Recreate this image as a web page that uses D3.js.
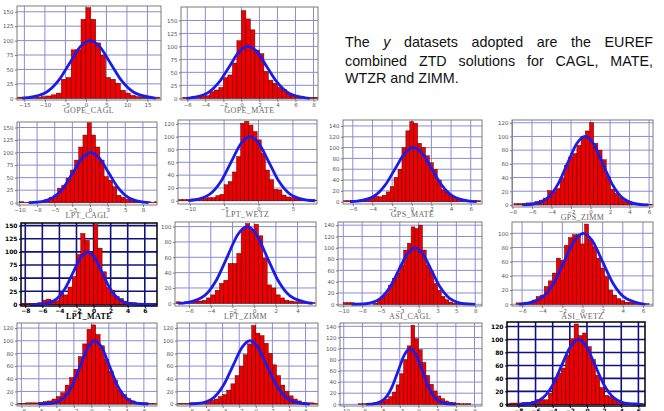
<!DOCTYPE html>
<html>
<head>
<meta charset="utf-8">
<script src="https://cdn.jsdelivr.net/npm/d3@7"></script>
<style>
body { margin: 0; background: #fff; }
svg { display: block; }
</style>
</head>
<body>
<div id="chart"></div>
<script>
//Data

const titles = ["GOPE_CAGL", "GOPE_MATE", "LPT_CAGL", "LPT_WETZ", "GPS_MATE", "GPS_ZIMM",
	"LPT_MATE", "LPT_ZIMM", "ASI_CAGL", "ASI_WETZ", null, null, null, null];

const xTicks = [
	[-15, -10, -5, 0, 5, 10, 15],
	[-6, -4, -2, 0, 2, 4, 6, 8],
	[-10, -7.5, -5, -2.5, 0, 2.5, 5, 7.5],
	[-10, -5, 0, 5],
	[-6, -4, -2, 0, 2, 4, 6],
	[-8, -6, -4, -2, 0, 2, 4, 6],
	[-8, -6, -4, -2, 0, 2, 4, 6],
	[-6, -4, -2, 0, 2, 4],
	[-10, -7.5, -5, -2.5, 0, 2.5, 5, 7.5],
	[-6, -4, -2, 0, 2, 4, 6],
	[-8, -6, -4, -2, 0, 2, 4, 6],
	[-8, -6, -4, -2, 0, 2, 4, 6],
	[-10, -7.5, -5, -2.5, 0, 2.5, 5, 7.5],
	[-8, -6, -4, -2, 0, 2, 4, 6]
];

const yTicks = [
	[0, 25, 50, 75, 100, 125, 150],
	[0, 25, 50, 75, 100, 125, 150],
	[0, 25, 50, 75, 100, 125, 150],
	[0, 20, 40, 60, 80, 100, 120],
	[0, 20, 40, 60, 80, 100, 120, 140],
	[0, 20, 40, 60, 80, 100, 120],
	[0, 25, 50, 75, 100, 125, 150],
	[0, 20, 40, 60, 80, 100],
	[0, 20, 40, 60, 80, 100, 120, 140],
	[0, 20, 40, 60, 80, 100],
	[0, 20, 40, 60, 80, 100, 120],
	[0, 20, 40, 60, 80, 100, 120],
	[0, 20, 40, 60, 80, 100, 120, 140],
	[0, 20, 40, 60, 80, 100, 120]
];

const binStarts = [-16.8, -6.5, -10, -11.6, -7, -7.85, -8.5, -7.2, -10.5, -6.6, -8.5, -9.5, -10.5, -9];
const binWidths = [1.2, 0.5, 0.6, 0.6, 0.4, 0.43, 0.5, 0.4, 0.5, 0.4, 0.5, 0.5, 0.5, 0.5];

const counts = [
	[2,2,1,1,2,3,4,6,9,33,36,84,84,137,157,137,96,75,36,33,26,14,9,5,3,2,2,2,2],
	[2,2,3,3,4,5,13,16,21,40,45,68,111,169,153,132,93,86,52,35,29,21,17,10,5,4,2,2,2,2],
	[2,1,1,2,2,3,7,11,15,29,35,49,65,85,111,135,160,135,111,85,52,45,32,15,11,7,5,3,2,2,2,1,2],
	[2,2,2,3,3,4,4,5,5,8,10,25,30,45,69,121,124,118,108,95,74,48,33,18,17,9,6,5,4,3,2,2,2,1],
	[2,2,2,2,3,3,4,8,10,9,12,18,28,45,60,100,131,148,145,108,100,85,72,60,40,22,18,12,8,5,4,3,2,2,2],
	[2,2,2,3,3,5,7,10,21,19,24,39,58,70,75,87,100,108,120,90,80,66,41,23,17,11,6,3,2,2,1,1,1],
	[2,2,2,2,3,8,10,8,7,22,18,33,53,95,135,122,100,152,107,62,32,27,15,11,6,4,3,2,2,2,2,2],
	[2,1,2,2,3,3,4,7,11,17,26,30,52,52,65,97,104,96,103,88,59,24,20,11,7,4,3,2,2,1,1,1],
	[0,3,3,3,1,0,0,0,0,2,8,14,19,34,46,55,69,96,108,137,134,140,96,69,58,37,25,14,8,4,2,1,1,1,0,0,0,0],
	[2,2,3,3,6,11,13,25,33,44,65,62,83,94,98,98,85,113,91,81,65,51,39,20,13,8,5,3,3,2,2,1,1],
	[1,1,2,2,2,3,4,5,8,12,18,30,42,55,75,95,118,125,110,92,70,52,38,22,15,9,5,3,2,2,1,1],
	[1,1,1,2,2,3,3,4,6,8,12,15,22,32,45,60,78,95,124,112,108,96,80,62,45,30,20,13,8,5,3,2,2,1],
	[0,0,0,0,0,1,1,2,2,3,4,6,9,14,22,35,55,80,105,142,118,98,75,52,36,24,15,10,6,4,3,2,1,1,1,0,0,0],
	[2,2,2,3,3,4,7,7,7,17,38,48,56,76,101,124,106,110,89,69,45,26,14,12,8,3,2,2,2,2,1]
];

//fitted normal curves: heights shared, x read per panel
const curveLevels = [0, 1, 10, 30, 60, 90, 100, 90, 60, 30, 10, 1, 0];
const curveX = [
	[-15.5, -14.15, -9.75, -6.75, -4.05, -1.3, 1, 3.3, 6.05, 8.75, 11.75, 16.15, 17],
	[-6.1, -5.62, -3.78, -2.52, -1.38, -0.23, 0.74, 1.71, 2.86, 4.0, 5.26, 7.1, 7.6],
	[-8.7, -7.48, -5.28, -3.78, -2.43, -1.05, 0.1, 1.25, 2.63, 3.98, 5.48, 7.68, 8.3],
	[-10.2, -9.51, -7.11, -5.47, -4.0, -2.5, -1.24, 0.02, 1.52, 2.99, 4.63, 7.03, 8.2],
	[-6.3, -5.5, -3.85, -2.73, -1.72, -0.69, 0.17, 1.03, 2.06, 3.07, 4.19, 5.84, 6.6],
	[-7, -6.01, -4.43, -3.35, -2.38, -1.39, -0.56, 0.27, 1.26, 2.23, 3.31, 4.89, 5.9],
	[-7.4, -5.85, -4.36, -3.34, -2.42, -1.48, -0.7, 0.08, 1.02, 1.94, 2.96, 4.45, 7.2],
	[-7.0, -6.19, -4.58, -3.49, -2.5, -1.49, -0.65, 0.19, 1.2, 2.19, 3.28, 4.89, 5.4],
	[-8.9, -7.02, -5.12, -3.83, -2.66, -1.47, -0.48, 0.51, 1.7, 2.87, 4.16, 6.06, 7.5],
	[-6.3, -5.65, -3.98, -2.85, -1.83, -0.79, 0.08, 0.95, 1.99, 3.01, 4.14, 5.81, 6.2],
	[-6, -4.6, -3.15, -2.16, -1.27, -0.36, 0.4, 1.16, 2.07, 2.96, 3.95, 5.4, 6.5],
	[-8, -6.91, -5.11, -3.88, -2.77, -1.64, -0.7, 0.24, 1.37, 2.48, 3.71, 5.51, 6.5],
	[-7, -5.95, -4.54, -3.58, -2.72, -1.84, -1.1, -0.36, 0.52, 1.38, 2.34, 3.75, 5],
	[-8, -6.85, -5.15, -3.99, -2.95, -1.89, -1.0, -0.11, 0.95, 1.99, 3.15, 4.85, 6.4]
];

const paraLines = [
	["The", "y", "datasets", "adopted", "are", "the", "EUREF"],
	["combined", "ZTD", "solutions", "for", "CAGL,", "MATE,"],
	["WTZR", "and", "ZIMM."]
];

//Layout: box = [left, right, top, bottom], domains per panel
const panels = [
	{box: [17, 161, 6, 100], xDom: [-16.8, 18.3], yDom: [-3, 160]},
	{box: [181, 318, 7, 100], xDom: [-6.7, 8.5], yDom: [-3.3, 176]},
	{box: [17, 157, 122, 205], xDom: [-10.35, 9.5], yDom: [-4.6, 161]},
	{box: [178, 317, 120, 204], xDom: [-11.7, 8.5], yDom: [-5, 126]},
	{box: [343, 482, 120, 204], xDom: [-7, 7.15], yDom: [-4.3, 151]},
	{box: [512, 653, 120, 207], xDom: [-8.05, 6.4], yDom: [-3, 124]},
	{box: [21, 157, 223, 306], xDom: [-8.5, 7.43], yDom: [-3.2, 155], dark: true},
	{box: [175, 316, 222, 306], xDom: [-7.3, 5.7], yDom: [-3.5, 106]},
	{box: [338, 482, 222, 306], xDom: [-10.7, 8.4], yDom: [-3, 145.6]},
	{box: [512, 653, 222, 306], xDom: [-7, 7], yDom: [-2.4, 115.9]},
	{box: [17, 157, 323, 406], xDom: [-8.5, 7.5], yDom: [-3, 128]},
	{box: [177, 318, 323, 406], xDom: [-9.5, 7.5], yDom: [-3, 128]},
	{box: [340, 482, 323, 406], xDom: [-10.5, 8.5], yDom: [-3, 146]},
	{box: [507, 645, 322, 406], xDom: [-9.33, 6.77], yDom: [-2.6, 127], dark: true}
];

const svg = d3.select('#chart')
	.append('svg')
	.attr('width', 664)
	.attr('height', 411);

panels.forEach(function(p, i) {
	let b = p.box;
	let x = d3.scaleLinear().domain(p.xDom).range([b[0], b[1]]);
	let y = d3.scaleLinear().domain(p.yDom).range([b[3], b[2]]);
	let gridCol = p.dark ? '#12127e' : '#8c8cd2';
	let gridW = p.dark ? 1.6 : 1;

	let g = svg.append('g');
	g.append('rect')
		.attr('x', b[0]).attr('y', b[2])
		.attr('width', b[1] - b[0]).attr('height', b[3] - b[2])
		.attr('fill', '#fff');

	svg.append('clipPath').attr('id', 'clip' + i)
		.append('rect')
		.attr('x', b[0]).attr('y', b[2])
		.attr('width', b[1] - b[0]).attr('height', b[3] - b[2]);

	let inner = g.append('g').attr('clip-path', 'url(#clip' + i + ')');

	//grid
	inner.selectAll('line.v').data(xTicks[i]).enter().append('line')
		.attr('x1', d => x(d)).attr('x2', d => x(d))
		.attr('y1', b[2]).attr('y2', b[3])
		.attr('stroke', gridCol).attr('stroke-width', gridW);
	inner.selectAll('line.h').data(yTicks[i]).enter().append('line')
		.attr('x1', b[0]).attr('x2', b[1])
		.attr('y1', d => y(d)).attr('y2', d => y(d))
		.attr('stroke', gridCol).attr('stroke-width', gridW);

	//bars
	let bins = counts[i].map(function(c, k) {
		let x0 = binStarts[i] + k * binWidths[i];
		return {x0: x0, x1: x0 + binWidths[i], c: c};
	}).filter(d => d.c > 0);
	inner.selectAll('rect.bar').data(bins).enter().append('rect')
		.attr('x', d => x(d.x0))
		.attr('width', d => x(d.x1) - x(d.x0))
		.attr('y', d => y(d.c))
		.attr('height', d => y(0) - y(d.c))
		.attr('fill', '#ee0000')
		.attr('stroke', '#4a0000')
		.attr('stroke-width', 0.45);

	//fitted curve
	let line = d3.line()
		.x(d => x(d[0]))
		.y(d => y(d[1]))
		.curve(d3.curveMonotoneX);
	inner.append('path')
		.datum(curveX[i].map((v, k) => [v, curveLevels[k]]))
		.attr('d', line)
		.attr('fill', 'none')
		.attr('stroke', '#1c1ce8')
		.attr('stroke-width', 2.8)
		.attr('stroke-linejoin', 'round');

	//frame
	g.append('rect')
		.attr('x', b[0]).attr('y', b[2])
		.attr('width', b[1] - b[0]).attr('height', b[3] - b[2])
		.attr('fill', 'none')
		.attr('stroke', p.dark ? '#000' : '#7a7a7a')
		.attr('stroke-width', p.dark ? 1.5 : 1);

	//axes
	let tickFill = p.dark ? '#000' : '#555';
	let xa = g.append('g')
		.attr('transform', 'translate(0,' + b[3] + ')')
		.call(d3.axisBottom(x).tickValues(xTicks[i]).tickSize(2).tickPadding(1));
	let ya = g.append('g')
		.attr('transform', 'translate(' + b[0] + ',0)')
		.call(d3.axisLeft(y).tickValues(yTicks[i]).tickSize(2).tickPadding(1.5));
	[xa, ya].forEach(function(a) {
		a.select('.domain').remove();
		a.selectAll('line').attr('stroke', p.dark ? '#000' : '#777');
		a.selectAll('text')
			.style('font-family', 'DejaVu Sans, sans-serif')
			.style('font-size', p.dark ? '6px' : '5.5px')
			.style('font-weight', p.dark ? 'bold' : 'normal')
			.attr('fill', tickFill);
	});

	if (titles[i]) {
		g.append('text')
			.attr('x', (b[0] + b[1]) / 2)
			.attr('y', b[3] + 13.2)
			.attr('text-anchor', 'middle')
			.style('font-family', 'Liberation Serif, serif')
			.style('font-size', '8px')
			.style('font-weight', p.dark ? 'bold' : 'normal')
			.style('letter-spacing', '0.4px')
			.attr('fill', p.dark ? '#000' : '#666')
			.text(titles[i]);
	}
});

//justified paragraph on the right
const textLeft = 345, textRight = 653;
const baselines = [47, 65.5, 83];
let para = svg.append('g')
	.style('font-family', 'Liberation Sans, Arial, sans-serif')
	.style('font-size', '14.3px')
	.attr('fill', '#111');

paraLines.forEach(function(words, li) {
	let nodes = words.map(w => para.append('text')
		.attr('y', baselines[li])
		.style('font-style', w === 'y' ? 'italic' : 'normal')
		.text(w));
	let widths = nodes.map(n => n.node().getComputedTextLength());
	let gap = li < paraLines.length - 1
		? (textRight - textLeft - d3.sum(widths)) / (words.length - 1)
		: 4;
	let cx = textLeft;
	nodes.forEach(function(n, k) {
		n.attr('x', cx);
		cx += widths[k] + gap;
	});
});
</script>
</body>
</html>
